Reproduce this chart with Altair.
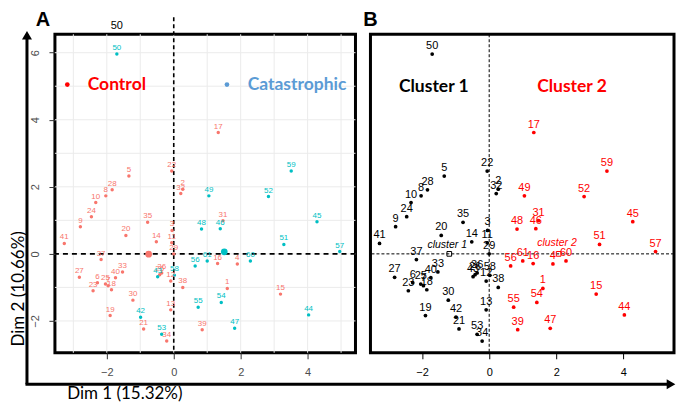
import altair as alt
import pandas as pd

# ---------------- data ----------------
point_id = list(range(1, 62))
dim1 = [1.60, 0.27, -0.05, 1.90, -1.34, -2.28, -1.96, -2.03, -2.79, -2.33,
        -0.06, -0.09, -0.09, -0.52, 3.19, 1.31, 1.33, -1.86, -1.90, -1.43,
        -0.90, -0.06, -2.41, -2.46, -2.04, -0.42, -2.82, -1.84, 0.00, -1.22,
        1.47, 0.21, -1.53, -0.21, -0.78, -0.36, -2.17, 0.27, 0.85, -1.74,
        -3.27, -0.99, -0.48, 4.03, 4.28, 1.39, 1.82, 0.83, 1.05, -1.70,
        3.29, 2.83, -0.36, 1.42, 0.73, 0.64, 4.96, 0.02, 3.51, 2.29, 1.00]
dim2 = [-1.03, 1.93, 0.70, -0.30, 2.32, -0.86, -0.95, 1.73, 0.81, 1.53,
        0.33, -0.81, -1.67, 0.36, -1.20, -0.29, 3.62, -1.07, -1.84, 0.55,
        -2.24, 2.47, -1.10, 1.11, -0.90, -0.62, -0.70, 1.91, 0.00, -1.38,
        0.99, 1.80, -0.54, -2.60, 0.94, -0.57, -0.17, -1.00, -2.26, -0.71,
        0.31, -1.89, -0.68, -1.82, 0.96, 0.75, -2.22, 0.74, 1.73, 5.96,
        0.28, 1.71, -2.40, -1.45, -1.59, -0.36, 0.07, -0.64, 2.47, -0.21, -0.21]
group = ["Control"] * 41 + ["Catastrophic"] * 20
cluster2_ids = [1, 4, 15, 16, 17, 31, 39, 44, 45, 46, 47, 48, 49, 51, 52,
                54, 55, 56, 57, 59, 60, 61]
cluster = ["2" if i in cluster2_ids else "1" for i in point_id]

group_names = ["Control", "Catastrophic"]
group_centroid_x = [-0.75, 1.51]
group_centroid_y = [-0.01, 0.06]

cluster_names = ["cluster 1", "cluster 2"]
cluster_centroid_x = [-1.19, 2.07]
cluster_centroid_y = [0.0, 0.0]
cluster_label_x = [-1.25, 2.02]
cluster_label_y = [0.27, 0.33]

legend_dot_x = [-3.18, 1.59]
legend_text_x = [-2.57, 2.21]
legend_y = [5.05, 5.05]

header_names = ["Cluster 1", "Cluster 2"]
header_x = [-2.69, 1.43]
header_y = [4.97, 4.97]

x_ticks = [-2, 0, 2, 4]
y_ticks = [-2, 0, 2, 4, 6]
grid_x = [-3, -2, -1, 0, 1, 2, 3, 4, 5]
grid_y = [-2, -1, 0, 1, 2, 3, 4, 5, 6]

x_title = "Dim 1 (15.32%)"
y_title = "Dim 2 (10.66%)"

df = pd.DataFrame({"id": point_id, "d1": dim1, "d2": dim2, "group": group,
                   "cluster": cluster, "label": [str(i) for i in point_id]})

# ---------------- layout ----------------
W_A, W_B, H = 301, 304, 319
sxA = alt.Scale(domain=[-3.55, 5.43], nice=False, zero=False)
sxB = alt.Scale(domain=[-3.54, 5.51], nice=False, zero=False)
sy = alt.Scale(domain=[-2.95, 6.55], nice=False, zero=False)

LBL = "Liberation Sans"
BIG = "Lato"

colA = alt.Color("group:N", scale=alt.Scale(domain=group_names, range=["#F8766D", "#00BFC4"]), legend=None)
colB = alt.Color("cluster:N", scale=alt.Scale(domain=["1", "2"], range=["#000000", "#FF0000"]), legend=None)

one = pd.DataFrame({"z": [0.0]})

axA_x = alt.Axis(values=x_ticks, title=None, grid=False, domain=False, tickSize=6,
                 tickColor="#333333", labelColor="#4D4D4D", labelFontSize=11,
                 labelFont=LBL, labelPadding=8)
axA_y = alt.Axis(values=y_ticks, title=None, grid=False, domain=False, tickSize=6,
                 tickColor="#333333", labelColor="#4D4D4D", labelFontSize=11,
                 labelFont=LBL, labelAngle=270, labelAlign="center",
                 labelBaseline="alphabetic", labelPadding=10)
axB_x = alt.Axis(values=x_ticks, title=None, grid=False, domain=False, tickSize=6,
                 tickColor="black", labelColor="black", labelFontSize=11,
                 labelFont=LBL, labelPadding=8)


def XA(f):
    return alt.X(f, scale=sxA, axis=axA_x)


def YA(f):
    return alt.Y(f, scale=sy, axis=axA_y)


def XB(f):
    return alt.X(f, scale=sxB, axis=axB_x)


def YB(f):
    return alt.Y(f, scale=sy, axis=None)


def txt(s):
    return alt.Chart(pd.DataFrame({"t": [s]}))


# ---------------- Panel A ----------------
gridA_x = alt.Chart(pd.DataFrame({"g": grid_x})).mark_rule(color="#EBEBEB", strokeWidth=1).encode(x=XA("g:Q"))
gridA_y = alt.Chart(pd.DataFrame({"g": grid_y})).mark_rule(color="#EBEBEB", strokeWidth=1).encode(y=YA("g:Q"))

vA = alt.Chart(one).mark_rule(color="black", strokeWidth=1.6, strokeDash=[4, 3]).encode(
    x=XA("z:Q"), y=alt.value(-17), y2=alt.value(H))
hA = alt.Chart(one).mark_rule(color="black", strokeWidth=1.8, strokeDash=[5, 4]).encode(y=YA("z:Q"))

ptsA = alt.Chart(df).mark_circle(size=12, opacity=1).encode(x=XA("d1:Q"), y=YA("d2:Q"), color=colA)
lblA = alt.Chart(df).mark_text(fontSize=8, dy=-4, baseline="alphabetic", font=LBL).encode(
    x=XA("d1:Q"), y=YA("d2:Q"), text="label:N", color=colA)

centA = alt.Chart(pd.DataFrame({"group": group_names, "cx": group_centroid_x, "cy": group_centroid_y})).mark_circle(
    size=45, opacity=1).encode(x=XA("cx:Q"), y=YA("cy:Q"), color=colA)

legA_df = pd.DataFrame({"name": group_names, "dx": legend_dot_x, "tx": legend_text_x, "ly": legend_y})
legA_layers = []
for i, c in enumerate(["#FF0000", "#5B9BD5"]):
    d = legA_df.iloc[[i]]
    legA_layers.append(alt.Chart(d).mark_circle(size=22, opacity=1, color=c).encode(
        x=XA("dx:Q"), y=YA("ly:Q")))
    legA_layers.append(alt.Chart(d).mark_text(fontSize=17.5, fontWeight="bold", font=BIG, color=c,
                                              align="left", baseline="middle").encode(
        x=XA("tx:Q"), y=YA("ly:Q"), text="name:N"))

top50 = alt.Chart(df[df["id"] == 50]).mark_text(fontSize=11, baseline="alphabetic", font=LBL, color="black").encode(
    x=XA("d1:Q"), y=alt.value(-5), text="label:N")

labA = txt("A").mark_text(fontSize=20, fontWeight="bold", font=LBL, baseline="top", align="center",
                          color="black").encode(x=alt.value(-12), y=alt.value(-24), text="t:N")

arr_v = alt.Chart(one).mark_rule(color="black", strokeWidth=3).encode(
    x=alt.value(-28), y=alt.value(0), y2=alt.value(350.5))
arr_h = alt.Chart(one).mark_rule(color="black", strokeWidth=3).encode(
    x=alt.value(-29.5), x2=alt.value(614), y=alt.value(350.5))
head_up = alt.Chart(one).mark_point(shape="triangle-up", filled=True, size=100, opacity=1, color="black").encode(
    x=alt.value(-28), y=alt.value(1))
head_right = alt.Chart(one).mark_point(shape="triangle-right", filled=True, size=100, opacity=1, color="black").encode(
    x=alt.value(617), y=alt.value(350.5))

ytitle = txt(y_title).mark_text(angle=270, fontSize=17, font=BIG, align="center", baseline="middle",
                                color="black").encode(x=alt.value(-36), y=alt.value(255), text="t:N")
xtitle = txt(x_title).mark_text(fontSize=17, font=BIG, align="center", baseline="bottom",
                                color="black").encode(x=alt.value(70), y=alt.value(369), text="t:N")

panelA = alt.layer(gridA_x, gridA_y, vA, hA, ptsA, lblA, centA, *legA_layers, top50, labA,
                   arr_v, arr_h, head_up, head_right, ytitle, xtitle).properties(width=W_A, height=H)

# ---------------- Panel B ----------------
vB = alt.Chart(one).mark_rule(color="black", strokeWidth=1, strokeDash=[3, 2]).encode(x=XB("z:Q"))
hB = alt.Chart(one).mark_rule(color="black", strokeWidth=1, strokeDash=[3, 2]).encode(y=YB("z:Q"))

ptsB = alt.Chart(df).mark_circle(size=14, opacity=1).encode(x=XB("d1:Q"), y=YB("d2:Q"), color=colB)
lblB = alt.Chart(df).mark_text(fontSize=11, dy=-5, baseline="alphabetic", font=LBL).encode(
    x=XB("d1:Q"), y=YB("d2:Q"), text="label:N", color=colB)

cent_df = pd.DataFrame({"cluster": ["1", "2"], "name": cluster_names, "cx": cluster_centroid_x,
                        "cy": cluster_centroid_y, "lx": cluster_label_x, "ly": cluster_label_y})
centB = alt.Chart(cent_df).mark_point(shape="square", size=22, filled=False, strokeWidth=1, opacity=1).encode(
    x=XB("cx:Q"), y=YB("cy:Q"), color=colB)
centB_lbl = alt.Chart(cent_df).mark_text(fontSize=10.5, fontStyle="italic", font=LBL).encode(
    x=XB("lx:Q"), y=YB("ly:Q"), text="name:N", color=colB)

head_df = pd.DataFrame({"cluster": ["1", "2"], "name": header_names, "hx": header_x, "hy": header_y})
headB = alt.Chart(head_df).mark_text(fontSize=17.5, fontWeight="bold", font=BIG, align="left", baseline="middle").encode(
    x=XB("hx:Q"), y=YB("hy:Q"), text="name:N", color=colB)

labB = txt("B").mark_text(fontSize=20, fontWeight="bold", font=LBL, baseline="top", align="center",
                          color="black").encode(x=alt.value(0), y=alt.value(-24), text="t:N")

panelB = alt.layer(vB, hB, ptsB, lblB, centB, centB_lbl, headB, labB).properties(width=W_B, height=H)

chart = alt.hconcat(panelA, panelB, spacing=15, bounds="flush", padding=0).resolve_scale(
    color="independent", x="independent", y="independent"
).configure_view(stroke="black", strokeWidth=3)

chart.save("out.html", embed_options={"renderer": "svg", "actions": False})
